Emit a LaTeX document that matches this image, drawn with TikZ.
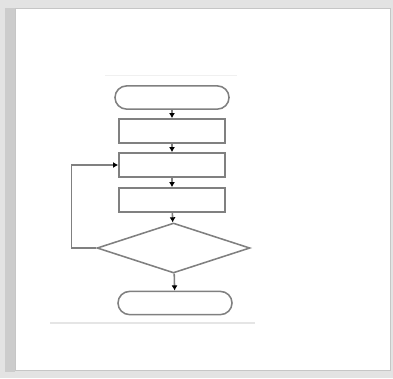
\documentclass[tikz,border=0pt]{standalone}
\usetikzlibrary{shapes.geometric,shapes.misc,arrows.meta}
\begin{document}
\begin{tikzpicture}[x=0.025cm, y=-0.025cm,
  >={Latex[length=1.3mm,width=1.5mm,color=black]},
  line/.style={draw=gray, line width=1.1pt},
  term/.style={line, rounded rectangle, minimum width=2.85cm, minimum height=0.58cm, inner sep=0pt},
  proc/.style={line, rectangle, minimum width=2.65cm, minimum height=0.6cm, inner sep=0pt},
  cond/.style={line, diamond, minimum width=3.82cm, minimum height=1.25cm, inner sep=0pt}]
\useasboundingbox (0,0) rectangle (393,378);
% frame with shadow
\fill[gray!22] (0,0) rectangle (393,378);
\fill[gray!40] (5,8) rectangle (15,372);
\filldraw[fill=white, draw=gray!45, line width=0.6pt] (15,8) rectangle (390,370);
% faint guide lines
\draw[gray!12, line width=0.6pt] (105,75) -- (237,75);
\draw[gray!20, line width=0.8pt] (50,323) -- (255,323);
% flow chart
\node[term] (start) at (172,97.5) {};
\node[proc] (init) at (172,131) {};
\node[proc] (body) at (172,165) {};
\node[proc] (step) at (172,200) {};
\node[cond] (test) at (173.5,248) {};
\node[term] (stop) at (175,303) {};
\draw[line,->] (start) -- (init);
\draw[line,->] (init) -- (body);
\draw[line,->] (body) -- (step);
\draw[line,->] (step) -- (test);
\draw[line,->] (test) -- (stop);
% loop back
\draw[line,->] (test.west) -- ++(-25,0) |- (body.west);
\end{tikzpicture}
\end{document}
